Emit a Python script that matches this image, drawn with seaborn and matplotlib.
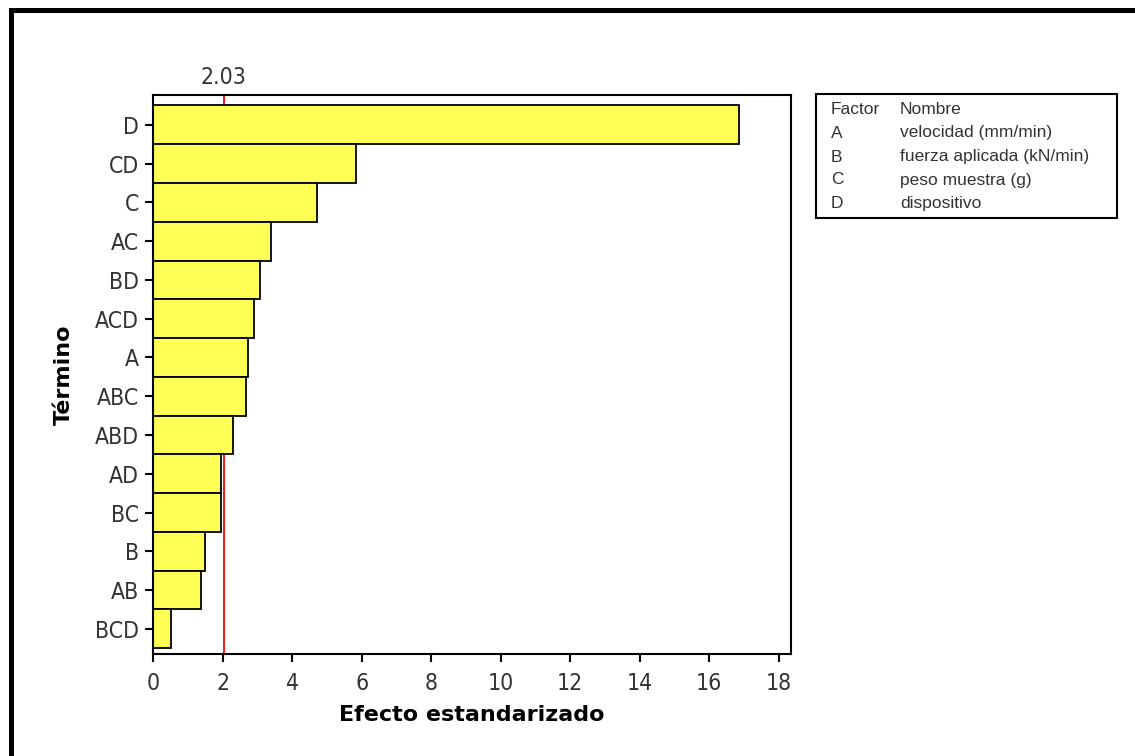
import matplotlib
matplotlib.use("Agg")
import matplotlib.pyplot as plt
from matplotlib.patches import Rectangle
from matplotlib.lines import Line2D
from matplotlib.font_manager import FontProperties
import matplotlib.transforms as mtransforms
import seaborn as sns
import pandas as pd

terms = ["D", "CD", "C", "AC", "BD", "ACD", "A", "ABC", "ABD", "AD", "BC", "B", "AB", "BCD"]
effects = [16.85, 5.85, 4.73, 3.40, 3.08, 2.91, 2.72, 2.68, 2.30, 1.95, 1.95, 1.50, 1.38, 0.53]
threshold = 2.03
xticks = [0, 2, 4, 6, 8, 10, 12, 14, 16, 18]
legend_factors = ["A", "B", "C", "D"]
legend_names = ["velocidad (mm/min)", "fuerza aplicada (kN/min)", "peso muestra (g)", "dispositivo"]

sns.set_style("white")
plt.rcParams["font.family"] = ["DejaVu Sans"]

tickfont = FontProperties(family="DejaVu Sans", stretch="condensed", weight="light", size=16.5)

W, H = 1135, 756
fig = plt.figure(figsize=(W / 100, H / 100), dpi=100)
ax = fig.add_axes([153 / W, 1 - 654 / H, (791 - 153) / W, (654 - 95) / H])

df = pd.DataFrame({"Término": terms, "Efecto": effects})
sns.barplot(data=df, x="Efecto", y="Término", orient="h", color="#FFFF55",
            saturation=1, edgecolor="black", linewidth=1.3, width=1.0, ax=ax, zorder=2)

ax.axvline(threshold, color="red", lw=1.3, zorder=1)
trans = mtransforms.blended_transform_factory(ax.transData, ax.transAxes)
ax.text(threshold, 1.031, f"{threshold:.2f}", transform=trans, ha="center", va="center",
        fontproperties=tickfont, color="#333333")

ax.set_xlim(0, 18.35)
ax.set_ylim(13.65, -0.77)
ax.set_xticks(xticks)
ax.set_xticklabels([str(t) for t in xticks])
for s in ax.spines.values():
    s.set_visible(True)
    s.set_color("black")
    s.set_linewidth(1.5)
ax.tick_params(axis="both", direction="out", length=6, width=1.5, color="black",
               labelcolor="#333333")
ax.tick_params(axis="x", bottom=True, pad=7)
ax.tick_params(axis="y", left=True, pad=4)
for lab in ax.get_xticklabels() + ax.get_yticklabels():
    lab.set_fontproperties(tickfont)

ax.set_xlabel("Efecto estandarizado", fontsize=16, fontweight="bold",
              family="DejaVu Sans", color="black", labelpad=7)
ax.set_ylabel("Término", fontsize=16, fontweight="bold", family="DejaVu Sans",
              color="black", labelpad=15)

# Legend box (factor table)
fig.add_artist(Rectangle((816 / W, 1 - 218 / H), (1117 - 816) / W, (218 - 94) / H,
                         transform=fig.transFigure, fill=False, edgecolor="black", lw=1.5))
rows_y = [110, 133, 157, 180, 203]
col1 = ["Factor"] + legend_factors
col2 = ["Nombre"] + legend_names
for y, a, b in zip(rows_y, col1, col2):
    fig.text(831 / W, 1 - y / H, a, ha="left", va="center", fontsize=12.5,
             color="#333333", family="Liberation Sans")
    fig.text(900 / W, 1 - y / H, b, ha="left", va="center", fontsize=12.5,
             color="#333333", family="Liberation Sans")

# Outer frame (top and left)
fig.add_artist(Line2D([10.5 / W, 10.5 / W], [0, 1 - 9.5 / H], transform=fig.transFigure,
                      color="black", lw=3.6, solid_capstyle="projecting"))
fig.add_artist(Line2D([10.5 / W, 1], [1 - 9.5 / H, 1 - 9.5 / H], transform=fig.transFigure,
                      color="black", lw=3.6, solid_capstyle="projecting"))

fig.savefig("out.png", dpi=100)
